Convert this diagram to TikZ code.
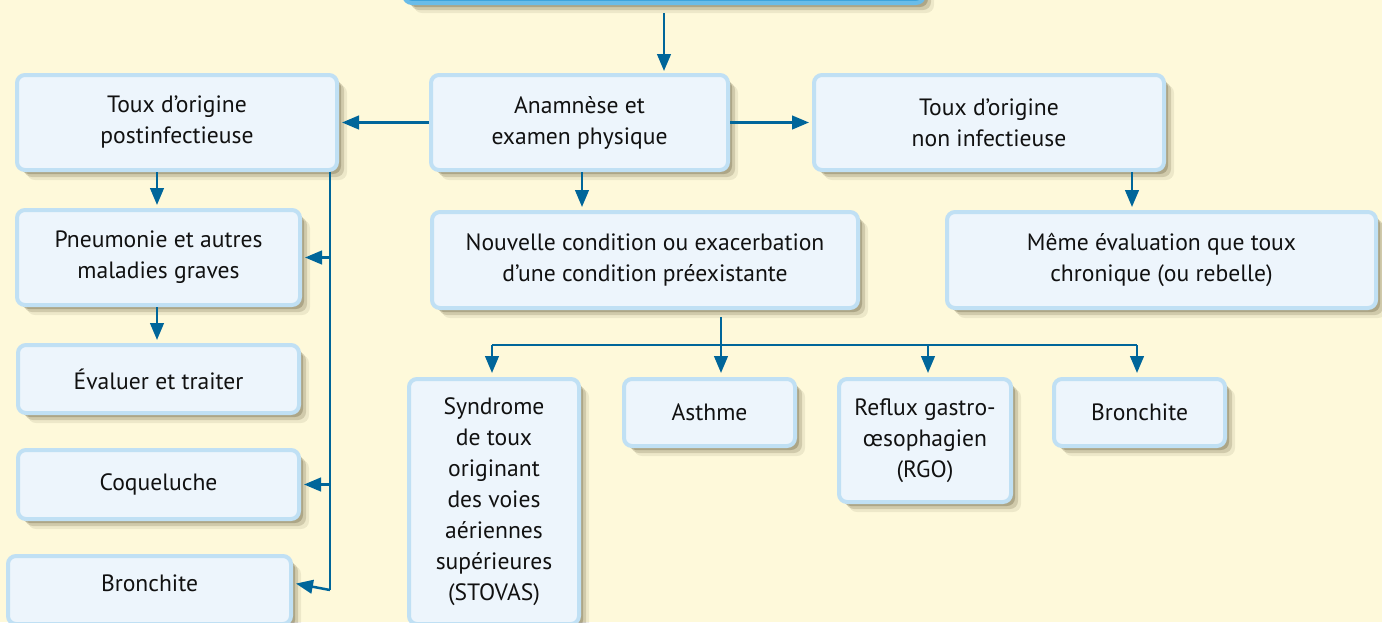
\documentclass[tikz,border=0pt]{standalone}
\usepackage{fontspec}
\setmainfont{PT Sans}
\usetikzlibrary{shadows,arrows.meta,calc}
\definecolor{bg}{HTML}{FEF9DA}
\definecolor{boxfill}{HTML}{EDF5FC}
\definecolor{boxline}{HTML}{C0E0F4}
\definecolor{arrowc}{HTML}{00669A}
\definecolor{topfill}{HTML}{3FA4DC}
\definecolor{topline}{HTML}{6ABCE8}
\definecolor{shadowc}{HTML}{5E5535}
\definecolor{txt}{HTML}{111111}
\tikzset{
 box/.style={draw=boxline, fill=boxfill, line width=2pt, rounded corners=4pt,
   text=txt, align=center, font=\fontsize{11.8}{15.5}\selectfont, inner sep=0pt,
   drop shadow={shadow xshift=2pt, shadow yshift=-2pt, opacity=0.3, fill=shadowc},
   drop shadow={shadow xshift=3.5pt, shadow yshift=-3.5pt, opacity=0.2, fill=shadowc},
   drop shadow={shadow xshift=5pt, shadow yshift=-5pt, opacity=0.1, fill=shadowc}},
 arr/.style={draw=arrowc, line width=1.25pt, -{Triangle[length=8.5pt,width=6.8pt]}},
 ln/.style={draw=arrowc, line width=1.25pt},
}
\begin{document}
\begin{tikzpicture}[x=0.5pt,y=-0.5pt]
\fill[bg] (0,0) rectangle (1382,622);
\useasboundingbox (0,0) rectangle (1382,622);
% top box
\node[box, draw=topline, fill=topfill, minimum width=260pt, minimum height=30.5pt] (T) at (664,-27.5) {};
% row 1
\node[box, minimum width=160pt, minimum height=47.5pt] (A) at (177,122.5) {Toux d’origine\\postinfectieuse};
\node[box, minimum width=148.5pt, minimum height=47.5pt] (B) at (579.5,122.5) {Anamnèse et\\examen physique};
\node[box, minimum width=175pt, minimum height=47.5pt] (C) at (989,122.5) {Toux d’origine\\non infectieuse};
% row 2
\node[box, minimum width=141.5pt, minimum height=47.5pt] (D) at (158.5,257.5) {Pneumonie et autres\\maladies graves};
\node[box, minimum width=213pt, minimum height=48pt] (E) at (645,260) {Nouvelle condition ou exacerbation\\d’une condition préexistante};
\node[box, minimum width=214.5pt, minimum height=48pt] (F) at (1161.5,260) {Même évaluation que toux\\chronique (ou rebelle)};
% left column
\node[box, minimum width=140.5pt, minimum height=34pt] (G) at (158.5,379) {Évaluer et traiter};
\node[box, minimum width=140.5pt, minimum height=34.5pt] (H) at (158.5,484.5) {Coqueluche};
\node[box, minimum width=141.5pt, minimum height=34pt, text depth=7pt] (I) at (149.5,590) {Bronchite};
% bottom row
\node[box, minimum width=85pt, minimum height=122.5pt] (J) at (494,501.5) {Syndrome\\de toux\\originant\\des voies\\aériennes\\supérieures\\(STOVAS)};
\node[box, minimum width=85.5pt, minimum height=33.5pt] (K) at (709.5,412.5) {Asthme};
\node[box, minimum width=86pt, minimum height=61.5pt] (L) at (925,440.5) {Reflux gastro-\\œsophagien\\(RGO)};
\node[box, minimum width=85.5pt, minimum height=33.5pt] (M) at (1139.5,412.5) {Bronchite};
% helper coordinates
\coordinate (xB) at (582,0);
\coordinate (xC) at (1132,0);
\coordinate (xA) at (157,0);
\coordinate (xV) at (330,0);
\coordinate (xE) at (721,0);
\coordinate (hy) at (0,345);
\coordinate (xJ) at (492,0);
\coordinate (xL) at (928,0);
\coordinate (xM) at (1137,0);
% connectors
\draw[arr, shorten <=4pt, shorten >=1pt] (T.south) -- (T.south |- B.north);
\draw[arr, shorten >=1.5pt] (B.west) -- (A.east);
\draw[arr, shorten >=1.5pt] (B.east) -- (C.west);
\draw[arr, shorten >=1.5pt] (A.south -| xA) -- (D.north -| xA);
\draw[arr, shorten >=1.5pt] (D.south -| xA) -- (G.north -| xA);
\draw[arr, shorten >=1.5pt] (B.south -| xB) -- (E.north -| xB);
\draw[arr, shorten >=1.5pt] (C.south -| xC) -- (F.north -| xC);
% left bus
\draw[ln] (A.south -| xV) -- (I.east -| xV);
\draw[arr, shorten >=1.5pt] (I.east -| xV) -- ([yshift=3.5pt]I.east);
\draw[arr, shorten >=1.5pt] (D.east -| xV) -- (D.east);
\draw[arr, shorten >=1.5pt] (H.east -| xV) -- (H.east);
% bottom bus
\draw[arr, shorten <=3.5pt, shorten >=2pt] (E.south -| xE) -- (K.north -| xE);
\draw[ln] (hy -| xJ) -- (hy -| xM);
\draw[arr, shorten >=2pt] (hy -| xJ) -- (J.north -| xJ);
\draw[arr, shorten >=2pt] (hy -| xL) -- (L.north -| xL);
\draw[arr, shorten >=2pt] (hy -| xM) -- (M.north -| xM);
\end{tikzpicture}
\end{document}
